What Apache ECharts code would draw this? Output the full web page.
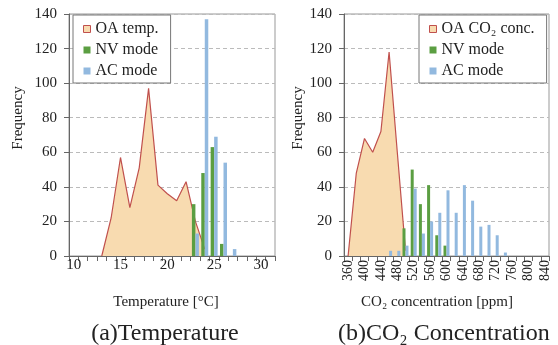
<!DOCTYPE html>
<html><head><meta charset="utf-8">
<script src="https://cdn.jsdelivr.net/npm/echarts@6/dist/echarts.min.js"></script>
<style>html,body{margin:0;padding:0;background:#fff}#c{width:558px;height:345px}</style>
</head><body><div id="c"></div>
<script>
// ---- data ----
const tempCategories = ['10','11','12','13','14','15','16','17','18','19','20','21','22','23','24','25','26','27','28','29','30','31'];
const oaTemp = [null,null,null,0,22,57,28,51,97,41,36,32,43,20,4,null,null,null,null,null,null,null];
const nvTemp = [null,null,null,null,null,null,null,null,null,null,null,null,null,30,48,63,7,null,null,null,null,null];
const acTemp = [null,null,null,null,null,null,null,null,null,null,null,null,null,13,137,69,54,4,null,null,null,null];

const co2Categories = ['360','380','400','420','440','460','480','500','520','540','560','580','600','620','640','660','680','700','720','740','760','780','800','820','840'];
const oaCO2 = [0,48,68,60,72,118,60,3,null,null,null,null,null,null,null,null,null,null,null,null,null,null,null,null,null];
const nvCO2 = [null,null,null,null,null,null,null,16,50,30,41,12,6,null,null,null,null,null,null,null,null,null,null,null,null];
const acCO2 = [null,null,null,null,null,3,3,6,39,13,20,25,38,25,41,32,17,18,12,2,null,null,null,null,null];

const freqTicks = [0,20,40,60,80,100,120,140];

// ---- styles ----
const FONT = 'Liberation Serif';
const LINE = '#c0504d', FILL = '#f8dbb0', GREEN = '#5b9e42', BLUE = '#92b9df';
const TXT = '#222';

function yAxis(idx){
  return {
    type:'value', gridIndex: idx,
    min: freqTicks[0], max: freqTicks[freqTicks.length-1], interval: freqTicks[1]-freqTicks[0],
    axisLine:{show:true, lineStyle:{color:'#666'}},
    axisTick:{show:true, inside:false, length:5, lineStyle:{color:'#666'}},
    axisLabel:{fontFamily:FONT, fontSize:15, color:TXT, margin:12},
    splitLine:{show:true, lineStyle:{color:'#bbb', type:[4,3]}}
  };
}
function legend(left, firstName){
  return {
    left:left, top:15, orient:'vertical',
    itemWidth:7, itemHeight:7, itemGap:5,
    padding:[6,12,4,10],
    borderColor:'#777', borderWidth:1, backgroundColor:'#fff',
    selectedMode:false,
    textStyle:{fontFamily:FONT, fontSize:16, color:TXT},
    data:[
      {name:firstName, icon:'rect', itemStyle:{color:FILL, borderColor:LINE, borderWidth:1}},
      {name:'NV mode', icon:'rect', itemStyle:{color:GREEN}},
      {name:'AC mode', icon:'rect', itemStyle:{color:BLUE}}
    ]
  };
}

const chart = echarts.init(document.getElementById('c'), null, {renderer:'canvas'});
chart.setOption({
  animation:false,
  backgroundColor:'#fff',
  grid:[
    {left:69, top:14, width:206, height:242, show:true, borderColor:'#999', borderWidth:1, backgroundColor:'transparent'},
    {left:344, top:14, width:205, height:242, show:true, borderColor:'#999', borderWidth:1, backgroundColor:'transparent'}
  ],
  xAxis:[
    {type:'category', gridIndex:0, data:tempCategories, boundaryGap:true,
     axisLine:{lineStyle:{color:'#666'}},
     axisTick:{show:true, length:5, interval:0, lineStyle:{color:'#666'}},
     axisLabel:{interval:4, fontFamily:FONT, fontSize:15, color:TXT, margin:2}},
    {type:'category', gridIndex:1, data:co2Categories, boundaryGap:true,
     axisLine:{lineStyle:{color:'#666'}},
     axisTick:{show:true, length:5, interval:0, lineStyle:{color:'#666'}},
     axisLabel:{interval:1, rotate:90, fontFamily:FONT, fontSize:14, color:TXT, margin:4}}
  ],
  yAxis:[yAxis(0), yAxis(1)],
  legend:[legend(73,'OA temp.'), legend(419,'OA CO₂ conc.')],
  series:[
    {name:'OA temp.', type:'line', xAxisIndex:0, yAxisIndex:0, data:oaTemp, symbol:'none',
     lineStyle:{color:LINE, width:1.2}, itemStyle:{color:FILL}, areaStyle:{color:FILL, opacity:1}, z:1},
    {name:'NV mode', type:'bar', xAxisIndex:0, yAxisIndex:0, data:nvTemp, barWidth:3.5, barGap:'0%', itemStyle:{color:GREEN}, z:3},
    {name:'AC mode', type:'bar', xAxisIndex:0, yAxisIndex:0, data:acTemp, barWidth:3.5, barGap:'0%', itemStyle:{color:BLUE}, z:3},
    {name:'OA CO₂ conc.', type:'line', xAxisIndex:1, yAxisIndex:1, data:oaCO2, symbol:'none',
     lineStyle:{color:LINE, width:1.2}, itemStyle:{color:FILL}, areaStyle:{color:FILL, opacity:1}, z:1},
    {name:'NV mode', type:'bar', xAxisIndex:1, yAxisIndex:1, data:nvCO2, barWidth:3, barGap:'0%', itemStyle:{color:GREEN}, z:3},
    {name:'AC mode', type:'bar', xAxisIndex:1, yAxisIndex:1, data:acCO2, barWidth:3, barGap:'0%', itemStyle:{color:BLUE}, z:3}
  ],
  graphic:[
    {type:'text', x:18, y:118, rotation:Math.PI/2, style:{text:'Frequency', font:'15px '+FONT, fill:TXT, textAlign:'center', textVerticalAlign:'middle'}},
    {type:'text', x:298, y:118, rotation:Math.PI/2, style:{text:'Frequency', font:'15px '+FONT, fill:TXT, textAlign:'center', textVerticalAlign:'middle'}},
    {type:'text', x:166, y:302, style:{text:'Temperature [°C]', font:'15px '+FONT, fill:TXT, textAlign:'center', textVerticalAlign:'middle'}},
    {type:'text', x:437, y:302, style:{text:'CO₂ concentration [ppm]', font:'15px '+FONT, fill:TXT, textAlign:'center', textVerticalAlign:'middle'}},
    {type:'text', x:165, y:334, style:{text:'(a)Temperature', font:'24px '+FONT, fill:TXT, textAlign:'center', textVerticalAlign:'middle'}},
    {type:'text', x:338, y:334, style:{text:'(b)CO₂ Concentration', font:'24px '+FONT, fill:TXT, textAlign:'left', textVerticalAlign:'middle'}}
  ]
});
</script></body></html>
